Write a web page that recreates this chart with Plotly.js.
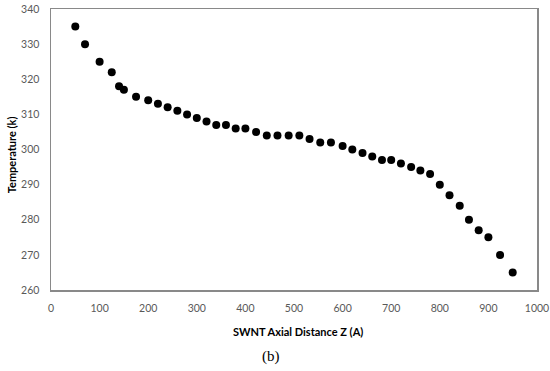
<!DOCTYPE html>
<html>
<head>
<meta charset="utf-8">
<script src="https://cdn.plot.ly/plotly-3.0.1.min.js"></script>
<style>html,body{margin:0;padding:0;background:#fff;}#chart{width:550px;height:371px;}</style>
</head>
<body>
<div id="chart"></div>
<script>
const distanceZ = [50,70,100,125,140,150,175,200,220,240,260,280,300,320,340,360,380,400,422,444,466,489,511,532,554,576,600,620,641,661,681,700,720,741,760,780,800,820,841,860,880,900,924,950];
const temperatureK = [335,330,325,322,318,317,315,314,313,312,311,310,309,308,307,307,306,306,305,304,304,304,304,303,302,302,301,300,299,298,297,297,296,295,294,293,290,287,284,280,277,275,270,265];
const xTickVals = [0,100,200,300,400,500,600,700,800,900,1000];
const yTickVals = [260,270,280,290,300,310,320,330,340];
const xTitle = 'SWNT Axial Distance Z (A)';
const yTitle = 'Temperature (k)';
const panelLabel = '(b)';

const axisColor = '#898989';
const tickFont = {family: 'Lato, "Open Sans", sans-serif', size: 10.5, color: '#595959'};

const trace = {
  x: distanceZ, y: temperatureK, type: 'scatter', mode: 'markers',
  marker: {color: '#000000', size: 8, line: {width: 0}},
  hoverinfo: 'x+y'
};

const layout = {
  width: 550, height: 371,
  margin: {l: 51, r: 13, t: 9, b: 81},
  paper_bgcolor: '#ffffff', plot_bgcolor: '#ffffff',
  showlegend: false,
  xaxis: {
    range: [0, 1000], tickvals: xTickVals, ticktext: xTickVals.map(String),
    showgrid: false, zeroline: false, showline: true, linecolor: axisColor, linewidth: 1.5,
    mirror: true, ticks: '', tickfont: tickFont, ticklabelstandoff: 8
  },
  yaxis: {
    range: [260, 340], tickvals: yTickVals, ticktext: yTickVals.map(String),
    showgrid: false, zeroline: false, showline: true, linecolor: axisColor, linewidth: 1.5,
    mirror: true, ticks: '', tickfont: tickFont, ticklabelstandoff: 8
  },
  annotations: [
    {text: '<b>' + xTitle + '</b>', xref: 'paper', yref: 'paper', x: 0.508, y: -0.148,
     showarrow: false, xanchor: 'center', yanchor: 'middle',
     font: {family: 'Lato, "Open Sans", sans-serif', size: 11, color: '#000000'}},
    {text: '<b>' + yTitle + '</b>', xref: 'paper', yref: 'paper', x: -0.082, y: 0.48,
     showarrow: false, xanchor: 'center', yanchor: 'middle', textangle: -90,
     font: {family: 'Lato, "Open Sans", sans-serif', size: 11, color: '#000000'}},
    {text: panelLabel, xref: 'paper', yref: 'paper', x: 0.453, y: -0.238,
     showarrow: false, xanchor: 'center', yanchor: 'middle',
     font: {family: '"Liberation Serif", "DejaVu Serif", serif', size: 15, color: '#000000'}}
  ]
};

Plotly.newPlot('chart', [trace], layout, {displayModeBar: false, staticPlot: true});
</script>
</body>
</html>
